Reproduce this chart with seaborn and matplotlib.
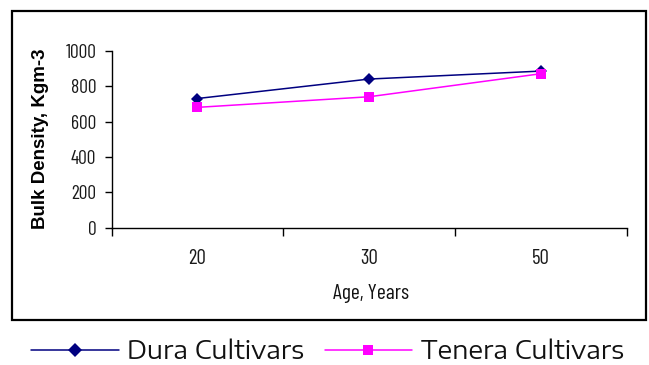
import matplotlib
matplotlib.use("Agg")
import matplotlib.pyplot as plt
import seaborn as sns
import pandas as pd
from matplotlib.patches import Rectangle
from matplotlib.lines import Line2D

ages = ["20", "30", "50"]
dura = [730, 840, 885]
tenera = [680, 740, 870]
series_names = ["Dura Cultivars", "Tenera Cultivars"]

df = pd.DataFrame({
    "Age": ages * 2,
    "Density": dura + tenera,
    "Series": [series_names[0]] * 3 + [series_names[1]] * 3,
})

sns.set_theme(style="white")
plt.rcParams["font.family"] = ["Liberation Sans", "DejaVu Sans"]

NARROW = ["Barlow Condensed", "Roboto Condensed", "DejaVu Sans"]
WIDE = ["Encode Sans Expanded", "Liberation Sans", "DejaVu Sans"]

fig = plt.figure(figsize=(6.49, 3.65), dpi=100)
ax = fig.add_axes([0.172, 0.3762, 0.7937, 0.4848])

palette = {series_names[0]: "#000080", series_names[1]: "#FF00FF"}
markers = {series_names[0]: "D", series_names[1]: "s"}
sns.lineplot(data=df, x="Age", y="Density", hue="Series", style="Series",
             palette=palette, markers=markers, dashes=False, markersize=6.5,
             markeredgewidth=0, linewidth=1.1, sort=False, legend=False, ax=ax)

ax.set_xlim(-0.5, 2.5)
ax.set_ylim(0, 1000)
ax.set_yticks(range(0, 1001, 200))
ax.set_xticks([0, 1, 2])
ax.set_xticklabels(ages)
ax.set_xticks([-0.5, 0.5, 1.5, 2.5], minor=True)

for lbl in ax.get_yticklabels():
    lbl.set_fontfamily(NARROW)
    lbl.set_fontsize(14)
    lbl.set_color("#1a1a1a")
for lbl in ax.get_xticklabels():
    lbl.set_fontfamily(NARROW)
    lbl.set_fontsize(15)
    lbl.set_color("#1a1a1a")

ax.tick_params(axis="y", which="major", direction="out", length=5, width=1,
               color="black", left=True, pad=6)
ax.tick_params(axis="x", which="major", length=0, pad=15)
ax.tick_params(axis="x", which="minor", direction="out", length=6, width=1,
               color="black", bottom=True)

for side in ["top", "right"]:
    ax.spines[side].set_visible(False)
for side in ["left", "bottom"]:
    ax.spines[side].set_color("black")
    ax.spines[side].set_linewidth(1)

ax.set_xlabel("Age, Years", fontfamily=NARROW, fontsize=15.5, color="#111111")
ax.xaxis.label.set_va("center")
ax.xaxis.set_label_coords(0.503, -0.372)
ax.set_ylabel("Bulk Density, Kgm-3", fontweight="bold", fontsize=13.5, color="black")
ax.yaxis.label.set_va("center")
ax.yaxis.set_label_coords(-0.139, 0.5)
ax.grid(False)

# frame around the plot area
fig.patches.append(Rectangle((0.0185, 0.1233), 0.9769, 0.8466, transform=fig.transFigure,
                             fill=False, edgecolor="black", linewidth=1.6, zorder=5))

handles = [Line2D([], [], color=palette[n], marker=markers[n], markersize=7.5,
                  markeredgewidth=0, linewidth=1.1) for n in series_names]
fig.legend(handles, series_names, loc="center", bbox_to_anchor=(0.505, 0.036),
           ncol=2, frameon=False, prop={"family": WIDE, "size": 18},
           handlelength=3.5, columnspacing=0.8, handletextpad=0.35, borderpad=0,
           labelcolor="#111111")

fig.savefig("out.png", dpi=100)
